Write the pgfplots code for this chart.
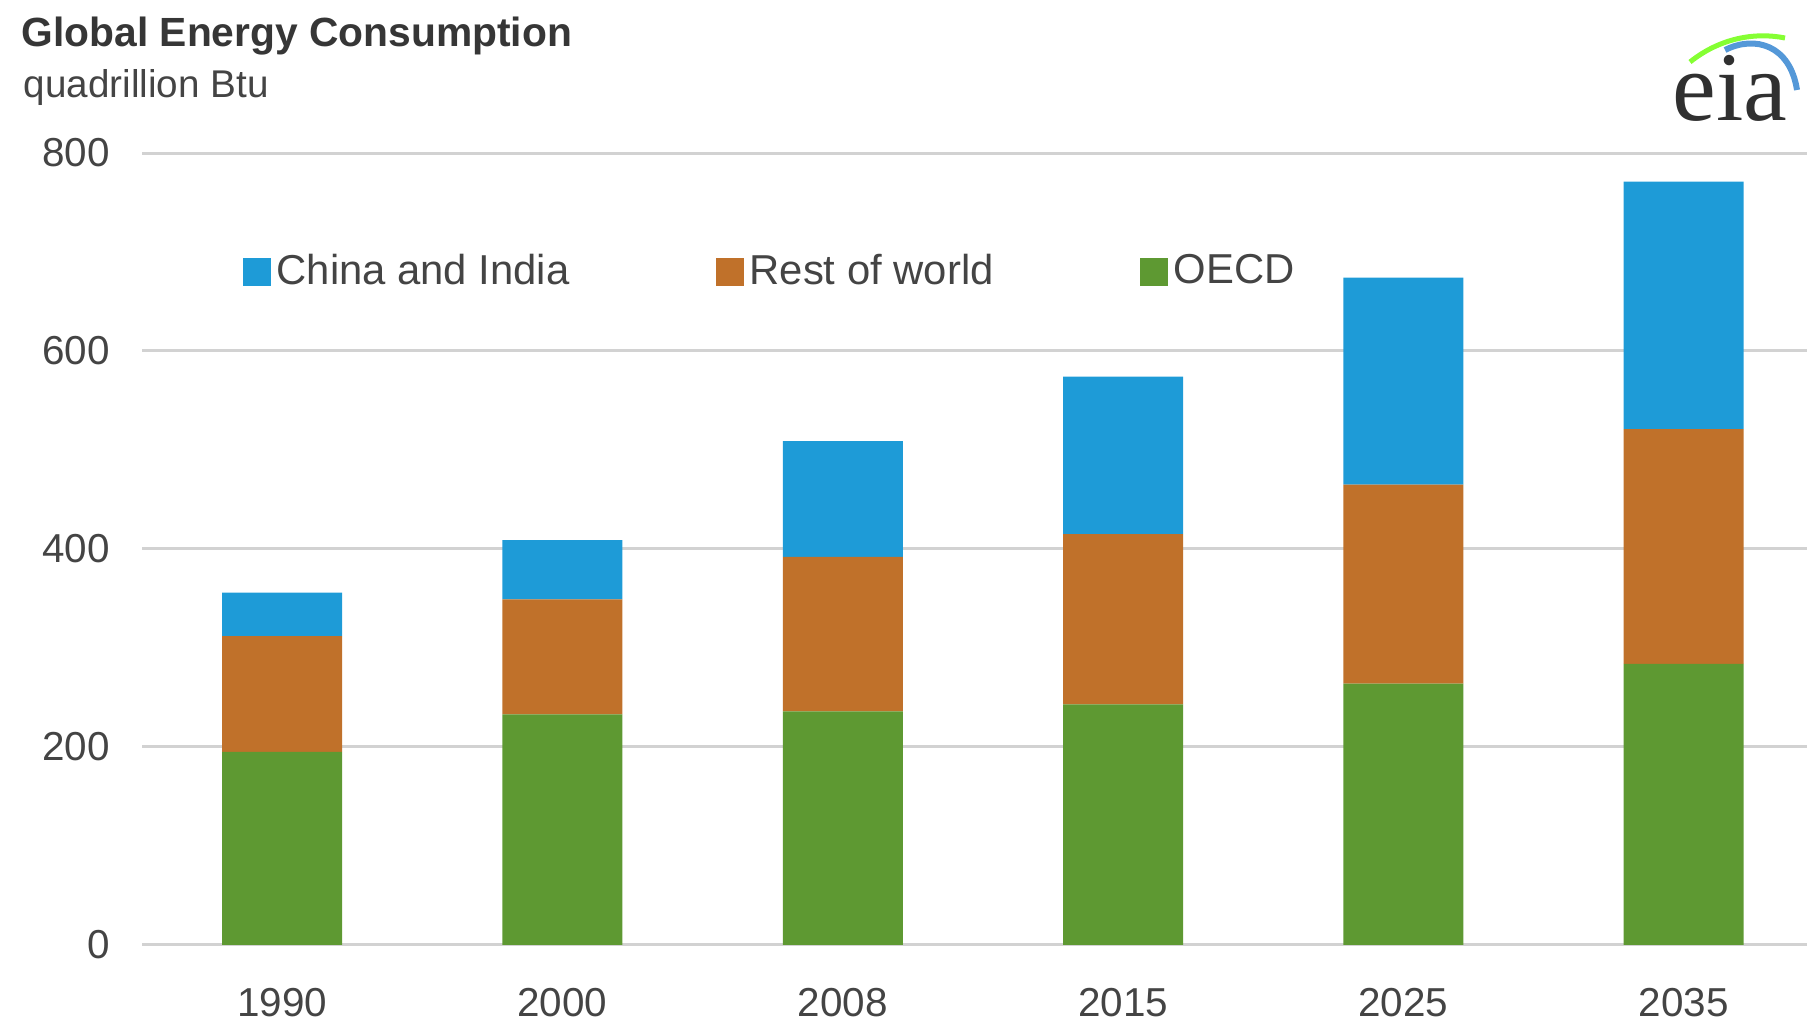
\documentclass[border=0pt]{standalone}
\usepackage{fontspec}
\setmainfont{Liberation Sans}
\newfontfamily\serifeia{Liberation Serif}
\usepackage{pgfplots}
\pgfplotsset{compat=1.18}
\definecolor{oecd}{RGB}{94,153,50}
\definecolor{rest}{RGB}{192,113,42}
\definecolor{chinaindia}{RGB}{30,155,215}
\definecolor{txt}{RGB}{68,68,68}
\definecolor{gridgray}{RGB}{210,210,210}

\begin{document}
\begin{tikzpicture}
\path[use as bounding box] (0,0) rectangle (180.7mm,102.5mm);

% title block
\node[anchor=west, inner sep=0, text=txt!80!black, font=\fontsize{11.6}{13}\selectfont\bfseries]
  at (2.1mm,98.9mm) {Global Energy Consumption};
\node[anchor=west, inner sep=0, text=txt, font=\fontsize{11}{13}\selectfont]
  at (2.3mm,93.7mm) {quadrillion Btu};

% eia logo
\draw[line width=0.5mm, green!60!yellow!80!white] (169mm,96.3mm) .. controls (172mm,98.7mm) and (175.5mm,99.3mm) .. (178.5mm,98.7mm);
\draw[line width=0.6mm, cyan!60!blue!70!white] (172.5mm,97.5mm) .. controls (175.5mm,99mm) and (179mm,98mm) .. (179.7mm,93.5mm);
\node[anchor=base west, inner sep=0, text=txt!70!black, font=\serifeia\fontsize{28}{30}\selectfont]
  at (167.2mm,90.4mm) {eia};

\begin{axis}[
  at={(14.2mm,8mm)}, anchor=south west,
  scale only axis, width=166.5mm, height=79.2mm,
  ybar stacked, bar width=12mm,
  xmin=-0.5, xmax=5.44, ymin=0, ymax=800,
  axis line style={draw=none},
  major tick length=0pt,
  ymajorgrids, grid style={gridgray, line width=0.3mm},
  xtick={0,1,2,3,4,5},
  xticklabels={1990,2000,2008,2015,2025,2035},
  ytick={0,200,400,600,800},
  yticklabels={0,200,400,600,800},
  tick label style={text=txt, font=\fontsize{11.5}{12}\selectfont},
  yticklabel style={xshift=-2mm},
  xticklabel style={yshift=-3.1mm},
  legend style={at={(0.06,0.85)}, anchor=west, draw=none, fill=none,
    legend columns=3, inner sep=0pt, text=txt,
    font=\fontsize{11.9}{12}\selectfont,
    nodes={inner sep=0.6mm},
    /tikz/every even column/.append style={column sep=14mm}},
  legend image code/.code={\fill[#1] (0mm,-1.4mm) rectangle (2.8mm,1.4mm);},
  reverse legend,
]
\addplot[fill=oecd, draw=none] coordinates {(0,195) (1,233) (2,236) (3,243) (4,264) (5,284)};
\addplot[fill=rest, draw=none] coordinates {(0,117) (1,116) (2,156) (3,172) (4,201) (5,237)};
\addplot[fill=chinaindia, draw=none] coordinates {(0,44) (1,60) (2,117) (3,159) (4,209) (5,250)};
\legend{OECD,Rest of world,China and India}
\end{axis}
\end{tikzpicture}
\end{document}
